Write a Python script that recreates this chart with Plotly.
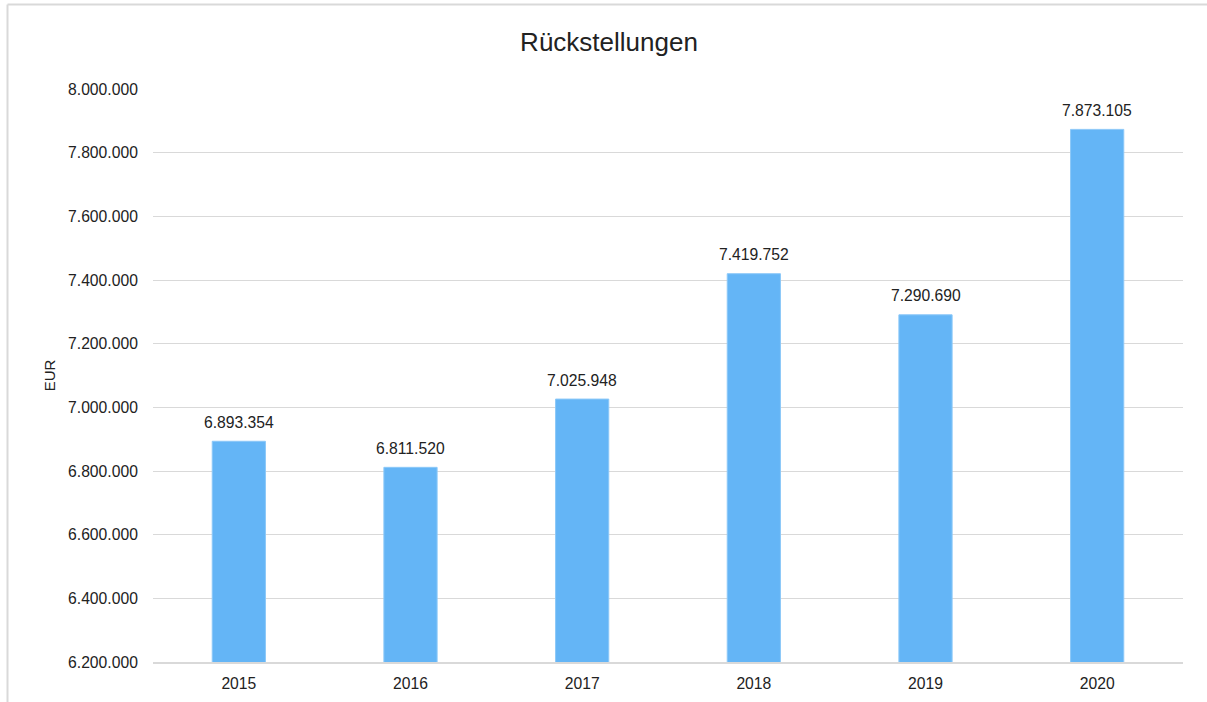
import plotly.graph_objects as go

years = ["2015", "2016", "2017", "2018", "2019", "2020"]
values = [6893354, 6811520, 7025948, 7419752, 7290690, 7873105]
labels = ["6.893.354", "6.811.520", "7.025.948", "7.419.752", "7.290.690", "7.873.105"]

font_family = "Liberation Sans, Arial, Helvetica, sans-serif"
grid = "#d9d9d9"
fs = 15.7

fig = go.Figure()
fig.add_trace(go.Bar(
    x=years, y=values,
    marker=dict(color="#64b5f6", line=dict(color="#8cc8f8", width=1)),
    hoverinfo="x+y",
))

for i, (v, lab) in enumerate(zip(values, labels)):
    fig.add_annotation(x=i, y=v, text=lab, showarrow=False, yanchor="middle",
                       yshift=19, font=dict(size=fs, color="#222", family=font_family))

L, R, T, B = 153, 24, 89, 40
W, H = 1207, 702
pw, ph = W - L - R, H - T - B
fx = (7.5 - L) / pw
fy_top = (H - B - 4.5) / ph
fy_bot = (H - B - H) / ph
fx_right = (W - L) / pw
fig.add_shape(type="line", xref="paper", yref="paper", x0=fx, x1=fx, y0=fy_bot, y1=fy_top,
              line=dict(color=grid, width=2))
fig.add_shape(type="line", xref="paper", yref="paper", x0=fx, x1=fx_right, y0=fy_top, y1=fy_top,
              line=dict(color=grid, width=2))

fig.update_layout(
    width=W, height=H,
    margin=dict(l=L, r=R, t=T, b=B, autoexpand=False),
    paper_bgcolor="white", plot_bgcolor="white",
    separators=",.",
    bargap=0.69,
    showlegend=False,
    font=dict(family=font_family, size=fs, color="#222"),
    title=dict(text="Rückstellungen", x=609 / W, xref="container", xanchor="center",
               y=1 - 42 / H, yanchor="middle", yref="container",
               font=dict(size=26, color="#222", family=font_family)),
)
fig.update_xaxes(type="category", range=[-0.5, len(years) - 0.5], automargin=False,
                 showgrid=False, showline=True, linecolor=grid, linewidth=2,
                 ticks="outside", ticklen=6, tickcolor="rgba(0,0,0,0)",
                 tickfont=dict(size=fs))
fig.update_yaxes(range=[6200000, 8000000], dtick=200000, tickformat=",d", automargin=False,
                 showgrid=True, gridcolor=grid, gridwidth=1, zeroline=False,
                 ticks="outside", ticklen=11, tickcolor="rgba(0,0,0,0)",
                 tickfont=dict(size=fs),
                 title=dict(text="EUR", standoff=8, font=dict(size=15)))

fig.write_html("out.html", config={"displayModeBar": False},
               post_script="document.body.style.margin='0px';document.body.style.overflow='hidden';")
